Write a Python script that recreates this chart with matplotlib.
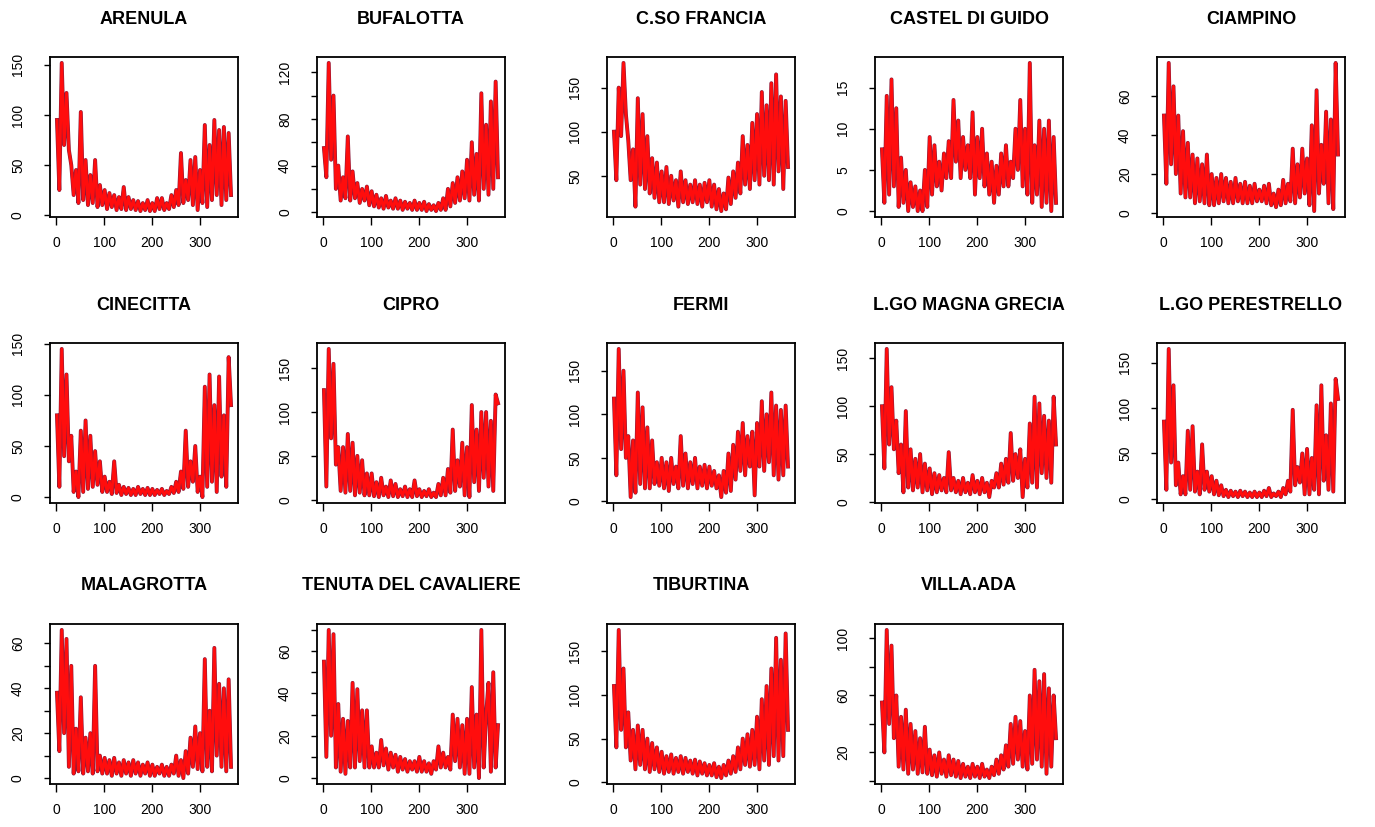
"""
Daily concentration series for the monitoring stations, one panel per
station, laid out on a 3 x 5 grid in the style of an R base-graphics plot.
"""

import numpy as np
import matplotlib
matplotlib.use('Agg')
import matplotlib.pyplot as plt

# Day of the year of each sample
vDays = np.arange(1, 367, 5)

STATIONS = ['ARENULA', 'BUFALOTTA', 'C.SO FRANCIA', 'CASTEL DI GUIDO',
            'CIAMPINO', 'CINECITTA', 'CIPRO', 'FERMI', 'L.GO MAGNA GRECIA',
            'L.GO PERESTRELLO', 'MALAGROTTA', 'TENUTA DEL CAVALIERE',
            'TIBURTINA', 'VILLA.ADA']

vArenula = [95, 25, 152, 70, 122, 65, 50, 20, 45, 12,
            103, 15, 55, 10, 40, 12, 55, 8, 30, 10,
            25, 6, 22, 8, 20, 5, 18, 6, 28, 5,
            18, 6, 15, 5, 14, 4, 12, 5, 15, 4,
            12, 4, 17, 6, 17, 5, 12, 6, 20, 8,
            25, 10, 62, 12, 35, 15, 55, 10, 58, 5,
            45, 12, 90, 8, 70, 15, 95, 20, 85, 10,
            88, 15, 82, 20]

vBufalotta = [55, 30, 128, 45, 100, 20, 40, 10, 30, 12,
              65, 10, 35, 12, 25, 8, 20, 10, 22, 6,
              18, 5, 15, 4, 12, 3, 14, 4, 10, 3,
              12, 3, 10, 2, 9, 3, 8, 2, 10, 2,
              8, 2, 9, 1, 7, 2, 6, 1, 8, 2,
              12, 2, 20, 5, 25, 8, 30, 10, 35, 12,
              45, 10, 60, 15, 50, 10, 102, 20, 75, 15,
              95, 20, 112, 30]

vCsoFrancia = [100, 45, 150, 95, 178, 120, 90, 45, 80, 15,
               138, 40, 120, 35, 95, 30, 70, 25, 65, 20,
               55, 20, 60, 18, 50, 22, 45, 15, 55, 20,
               45, 18, 40, 20, 45, 18, 40, 15, 42, 20,
               45, 15, 40, 12, 35, 10, 30, 12, 48, 18,
               55, 25, 65, 30, 95, 40, 85, 35, 110, 45,
               120, 40, 145, 50, 130, 45, 155, 40, 165, 55,
               140, 35, 135, 60]

vCastelDiGuido = [7.5, 1, 14, 2, 16, 3, 12.5, 0.5, 6.5, 1,
                  5, 0, 3.5, 0.5, 3, 0, 2.5, 0, 5, 0.5,
                  9, 2, 8, 3, 6, 2.5, 7, 4, 8.5, 4,
                  13.5, 6, 11, 4, 9, 5, 8, 4, 12, 2,
                  9, 4, 10, 3, 7, 2, 6, 1, 5.5, 2,
                  7, 3, 8, 3, 6, 4, 10, 5, 13.5, 3,
                  10, 2, 18, 1, 8, 2, 11, 0.5, 10, 1,
                  11, 0, 9, 1]

vCiampino = [50, 15, 77, 25, 65, 20, 50, 10, 42, 8,
             36, 8, 30, 5, 28, 6, 25, 5, 30, 4,
             20, 4, 18, 5, 20, 6, 18, 5, 16, 5,
             18, 6, 15, 5, 16, 5, 14, 5, 15, 6,
             12, 6, 14, 5, 15, 4, 10, 3, 12, 4,
             17, 5, 15, 6, 33, 5, 25, 8, 33, 10,
             28, 4, 45, 1, 63, 10, 35, 15, 52, 5,
             48, 2, 77, 30]

vCinecitta = [80, 10, 145, 40, 120, 35, 60, 5, 25, 0,
              65, 5, 75, 8, 60, 10, 45, 12, 35, 5,
              20, 5, 15, 3, 35, 4, 12, 2, 10, 3,
              9, 2, 8, 2, 10, 3, 8, 2, 9, 2,
              8, 2, 7, 3, 8, 2, 6, 3, 10, 4,
              15, 5, 25, 8, 65, 10, 35, 15, 50, 5,
              20, 0, 108, 10, 120, 15, 90, 5, 118, 20,
              80, 10, 137, 90]

vCipro = [125, 15, 172, 70, 155, 40, 60, 10, 60, 8,
          75, 10, 65, 5, 50, 8, 45, 5, 30, 5,
          30, 4, 20, 3, 25, 5, 15, 3, 22, 4,
          18, 3, 12, 4, 15, 3, 12, 3, 22, 4,
          12, 3, 10, 4, 12, 3, 8, 3, 18, 5,
          25, 5, 35, 8, 80, 10, 45, 15, 65, 5,
          60, 3, 108, 20, 80, 10, 100, 25, 100, 15,
          90, 10, 120, 110]

vFermi = [118, 30, 175, 60, 150, 50, 75, 5, 70, 10,
          125, 20, 108, 15, 85, 15, 70, 20, 45, 18,
          50, 15, 45, 12, 50, 20, 40, 15, 75, 18,
          55, 15, 45, 20, 50, 15, 40, 18, 42, 15,
          40, 18, 35, 15, 30, 5, 35, 10, 55, 12,
          65, 25, 80, 35, 90, 30, 75, 40, 80, 7,
          90, 40, 115, 35, 100, 45, 125, 30, 110, 25,
          105, 30, 110, 40]

vMagnaGrecia = [100, 35, 160, 60, 120, 55, 85, 30, 60, 10,
                95, 15, 55, 12, 45, 15, 50, 10, 40, 12,
                35, 8, 30, 10, 28, 12, 25, 10, 52, 12,
                25, 10, 22, 8, 25, 10, 20, 8, 28, 10,
                22, 8, 25, 10, 20, 5, 22, 15, 30, 15,
                40, 18, 45, 20, 72, 22, 50, 25, 55, 5,
                45, 15, 82, 20, 110, 15, 103, 30, 90, 25,
                85, 20, 110, 60]

vPerestrello = [85, 10, 165, 40, 125, 15, 40, 5, 25, 5,
                75, 10, 80, 8, 30, 5, 60, 10, 30, 8,
                25, 5, 20, 4, 15, 3, 10, 2, 9, 3,
                8, 2, 9, 3, 8, 2, 7, 2, 8, 2,
                7, 2, 9, 3, 12, 2, 6, 3, 8, 2,
                12, 5, 20, 8, 98, 15, 35, 18, 50, 5,
                55, 5, 45, 10, 103, 5, 125, 20, 70, 10,
                105, 8, 132, 110]

vMalagrotta = [38, 12, 66, 20, 62, 5, 50, 2, 22, 3,
               36, 2, 18, 3, 20, 2, 50, 3, 10, 2,
               9, 2, 8, 1, 9, 2, 7, 1, 8, 2,
               7, 1, 8, 2, 7, 1, 6, 2, 7, 1,
               6, 1, 5, 2, 6, 1, 5, 1, 6, 2,
               10, 1, 8, 0, 12, 2, 18, 5, 23, 4,
               20, 3, 53, 5, 30, 3, 58, 10, 42, 5,
               40, 3, 44, 5]

vTenuta = [55, 10, 70, 20, 68, 5, 35, 3, 28, 2,
           27, 5, 45, 5, 42, 8, 32, 5, 32, 5,
           15, 5, 12, 5, 18, 6, 14, 4, 12, 5,
           11, 3, 10, 4, 9, 3, 8, 4, 8, 3,
           10, 3, 8, 3, 7, 2, 8, 4, 15, 5,
           12, 5, 10, 4, 30, 8, 28, 5, 25, 2,
           28, 2, 43, 5, 30, 0, 70, 5, 30, 45,
           3, 50, 5, 25]

vTiburtina = [110, 40, 174, 60, 130, 40, 80, 25, 60, 15,
              65, 20, 60, 15, 50, 12, 45, 15, 40, 12,
              35, 10, 30, 12, 32, 10, 28, 12, 30, 10,
              28, 12, 25, 10, 26, 8, 24, 10, 22, 8,
              20, 8, 22, 6, 18, 5, 20, 8, 25, 10,
              30, 12, 40, 15, 50, 20, 55, 18, 60, 20,
              75, 15, 95, 25, 110, 20, 130, 30, 165, 25,
              140, 30, 170, 60]

vVillaAda = [55, 20, 106, 40, 95, 30, 60, 10, 45, 8,
             50, 5, 40, 8, 35, 5, 30, 6, 38, 5,
             22, 4, 18, 3, 20, 5, 15, 3, 18, 4,
             15, 3, 14, 2, 12, 3, 10, 2, 12, 3,
             10, 2, 12, 3, 8, 2, 10, 4, 15, 5,
             18, 8, 25, 10, 40, 12, 45, 15, 42, 10,
             35, 8, 60, 12, 78, 15, 70, 10, 75, 5,
             65, 10, 60, 30]

lSeries = [vArenula, vBufalotta, vCsoFrancia, vCastelDiGuido, vCiampino,
           vCinecitta, vCipro, vFermi, vMagnaGrecia, vPerestrello,
           vMalagrotta, vTenuta, vTiburtina, vVillaAda]

# y-axis ticks (all marks) and the subset that gets a label
lYTicks = [[0, 50, 100, 150], list(range(0, 121, 20)), [50, 100, 150],
           [0, 5, 10, 15], [0, 20, 40, 60],
           [0, 50, 100, 150], [0, 50, 100, 150], [0, 50, 100, 150],
           [0, 50, 100, 150], [0, 50, 100, 150],
           list(range(0, 61, 10)), list(range(0, 71, 10)), [0, 50, 100, 150],
           list(range(0, 101, 20))]
lYLabels = [[0, 50, 100, 150], [0, 40, 80, 120], [50, 100, 150],
            [0, 5, 10, 15], [0, 20, 40, 60],
            [0, 50, 100, 150], [0, 50, 100, 150], [0, 50, 100, 150],
            [0, 50, 100, 150], [0, 50, 100, 150],
            [0, 20, 40, 60], [0, 20, 40, 60], [0, 50, 100, 150],
            [20, 60, 100]]


def _plot_stations():

    W, H = 1375.0, 827.0
    vLeft = [50, 317, 607, 875, 1157]   # panel left edges [px]
    vTop = [57, 343, 624]               # panel top edges [px]
    BOXW, BOXH = 188, 160

    plt.rcParams['font.family'] = ['Liberation Sans', 'DejaVu Sans']
    hFig = plt.figure(figsize=(W / 100, H / 100), dpi=100)
    hFig.patch.set_facecolor('white')

    for iSt, sName in enumerate(STATIONS):
        iRow, iCol = divmod(iSt, 5)
        x0 = vLeft[iCol] / W
        y0 = (H - vTop[iRow] - BOXH) / H
        hAx = hFig.add_axes([x0, y0, BOXW / W, BOXH / H])

        vVal = np.array(lSeries[iSt], dtype=float)
        # dark outline first, bright red trace on top
        hAx.plot(vDays, vVal, color='#8b1a3a', linewidth=2.8)
        hAx.plot(vDays, vVal, color='#ff0d0d', linewidth=2.0)
        hAx.margins(x=0.04, y=0.04)

        hAx.set_xticks([0, 100, 200, 300])
        hAx.set_xticklabels(['0', '100', '200', '300'])
        hAx.set_yticks(lYTicks[iSt])
        hAx.set_yticklabels([str(v) if v in lYLabels[iSt] else ''
                             for v in lYTicks[iSt]], rotation=90, va='center')

        hAx.tick_params(axis='x', length=6, width=1.0, pad=8, labelsize=10)
        hAx.tick_params(axis='y', length=4, width=1.0, pad=14, labelsize=10)
        for sSide in hAx.spines.values():
            sSide.set_linewidth(1.3)

        hAx.text(0.5, 1.0 + 38.0 / BOXH, sName, transform=hAx.transAxes,
                 ha='center', va='center', fontsize=13, fontweight='bold')

    hFig.savefig('out.png', dpi=100)


if __name__ == '__main__':
    _plot_stations()
